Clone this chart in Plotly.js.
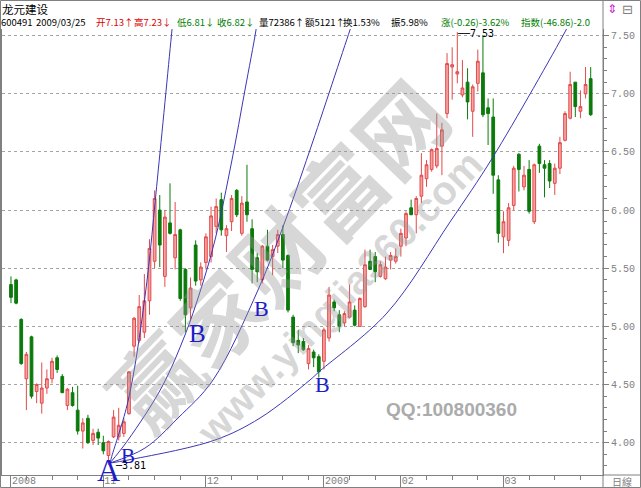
<!DOCTYPE html>
<html>
<head>
<meta charset="utf-8">
<script src="https://cdn.plot.ly/plotly-3.0.1.min.js"></script>
<style>html,body{margin:0;padding:0;background:#fff;}#chart{width:641px;height:488px;}</style>
</head>
<body>
<div id="chart"></div>
<script>
// ---- data (trading-day index 0 = first October 2008 session) ----
const monthIdx = [0, 18, 38, 61, 76, 96];
const monthLabels = ['2008', '11', '12', '2009', '02', '03'];
const weekIdx = [3, 8, 13, 23, 28, 33, 43, 48, 53, 58, 66, 71, 81, 86, 91, 101, 106, 111];
const priceTicks = [4.0, 4.5, 5.0, 5.5, 6.0, 6.5, 7.0, 7.5];

const openP = [5.36,5.40,5.06,4.55,4.91,4.44,4.34,4.47,4.55,4.73,
4.57,4.32,4.43,4.28,4.10,4.21,4.02,4.09,4.00,3.89,
4.05,4.05,4.08,4.25,4.83,4.88,4.95,5.22,5.56,6.00,
5.43,5.89,5.59,5.83,5.49,5.16,5.70,5.40,5.55,5.60,
5.86,6.09,5.78,5.90,6.17,5.80,6.07,5.84,5.59,5.40,
5.69,5.60,5.69,5.79,5.61,5.08,4.88,4.87,4.68,4.78,
4.74,4.70,4.90,5.21,5.10,5.03,5.08,5.14,5.00,5.17,
5.56,5.60,5.43,5.41,5.57,5.56,5.69,5.76,6.02,5.96,
6.12,6.27,6.35,6.38,6.55,6.83,7.23,7.17,6.99,7.10,
6.85,7.09,7.18,6.88,6.80,6.26,5.77,5.74,6.04,6.48,
6.20,6.35,5.90,6.55,6.39,6.40,6.23,6.36,6.60,6.79,
7.10,6.85,7.00,7.13];
const highP = [5.43,5.41,5.07,4.78,4.92,4.51,4.69,4.63,4.73,4.75,
4.59,4.47,4.48,4.49,4.21,4.24,4.12,4.12,4.06,4.02,
4.28,4.30,4.21,4.61,5.08,5.27,5.45,5.75,6.17,6.13,
6.00,6.23,6.07,5.84,5.50,5.42,5.74,5.55,5.80,6.03,
6.10,6.15,5.87,6.13,6.18,6.12,6.39,5.92,5.63,5.70,
5.83,5.70,5.83,5.87,5.62,5.10,4.97,4.90,4.84,4.80,
4.76,4.99,5.34,5.23,5.14,5.13,5.36,5.18,5.25,5.66,
5.66,5.64,5.56,5.60,5.64,5.67,5.84,5.99,6.09,6.12,
6.49,6.43,6.53,6.83,6.75,7.35,7.40,7.53,7.29,7.22,
7.08,7.38,7.50,6.96,6.96,6.30,5.99,6.06,6.38,6.49,
6.38,6.43,6.40,6.57,6.43,6.43,6.40,6.63,6.85,7.19,
7.10,7.03,7.23,7.23];
const lowP = [5.20,5.19,4.67,4.28,4.38,4.34,4.25,4.42,4.51,4.60,
4.43,4.28,4.31,4.07,3.95,3.99,3.98,3.98,3.90,3.81,
4.04,4.02,4.05,4.24,4.74,4.86,4.90,5.10,5.50,5.51,
5.34,5.79,5.49,5.22,4.95,5.05,5.35,5.35,5.49,5.55,
5.80,5.78,5.64,5.82,5.94,5.78,5.90,5.37,5.38,5.37,
5.56,5.44,5.63,5.50,5.12,4.83,4.77,4.79,4.63,4.65,
4.56,4.63,4.87,5.13,4.95,5.00,5.07,5.00,5.00,5.16,
5.49,5.38,5.42,5.40,5.49,5.54,5.60,5.69,5.96,5.80,
6.06,6.20,6.33,6.36,6.30,6.79,6.95,7.09,6.97,6.78,
6.63,7.02,6.80,6.56,6.14,5.72,5.63,5.69,6.00,6.16,
6.17,5.97,5.88,6.32,6.11,6.19,6.13,6.31,6.59,6.78,
6.80,6.79,6.96,6.81];
const closeP = [5.25,5.20,4.68,4.76,4.40,4.50,4.47,4.55,4.70,4.63,
4.43,4.46,4.32,4.10,4.17,4.00,4.08,4.04,3.93,4.01,
4.22,4.15,4.18,4.61,5.07,5.17,5.22,5.67,6.10,5.70,
5.94,5.80,5.79,5.24,5.10,5.33,5.39,5.51,5.77,5.95,
6.03,5.83,5.84,6.10,5.96,6.06,5.96,5.49,5.47,5.69,
5.57,5.66,5.79,5.57,5.14,4.86,4.84,4.80,4.81,4.73,
4.61,4.97,5.27,5.16,5.00,5.11,5.21,5.01,5.24,5.53,
5.49,5.47,5.53,5.51,5.61,5.60,5.80,5.97,5.96,6.10,
6.30,6.39,6.52,6.53,6.69,7.26,7.25,7.19,7.05,6.93,
7.06,7.28,6.82,6.83,6.30,5.80,5.90,6.02,6.36,6.35,
6.30,5.99,6.39,6.40,6.36,6.25,6.36,6.58,6.83,7.08,
6.89,6.89,7.08,6.82];

// hand-drawn arcs from point A (index / price)
const arc1X = [19.3, 19.63, 22.87, 26.12, 28.71, 31.38, 31.77];
const arc1Y = [3.825, 3.88, 4.367, 5.255, 6.345, 7.549, 7.72];
const arc2X = [19.3, 22.81, 29.42, 33.92, 36.84, 39.77, 43.08, 45.61, 47.76, 48.15];
const arc2Y = [3.825, 4.023, 4.479, 4.926, 5.296, 5.743, 6.431, 7.033, 7.549, 7.678];
const arc3X = [19.3, 26.12, 32.55, 39.38, 48.15, 53.02, 58.28, 66.08, 67.06];
const arc3Y = [3.825, 3.954, 4.212, 4.539, 5.313, 5.855, 6.517, 7.549, 7.678];
const arc4X = [19.3, 22.81, 39.77, 48.54, 58.28, 60.23, 73.29, 85.58, 93.96, 107.99, 108.97];
const arc4Y = [3.825, 3.851, 4.023, 4.212, 4.539, 4.617, 5.115, 5.898, 6.457, 7.532, 7.618];

// point labels
const markText = ['A', 'B', 'B', 'B', 'B'];
const markX = [19.1, 22.8, 36.45, 48.9, 60.8];
const markY = [3.765, 3.885, 4.94, 5.15, 4.50];
const markSize = [32, 21, 25, 22, 22];

// header texts
const stockName = '龙元建设';
const hdrText = ['600491', '2009/03/25', '开7.13↑', '高7.23↓', '低6.81↓', '收6.82↓',
  '量72386↑', '额5121↑', '换1.53%', '振5.98%', '涨(-0.26)-3.62%', '指数(-46.86)-2.0'];
const hdrKind = ['k', 'k', 'r', 'r', 'g', 'g', 'k', 'k', 'k', 'k', 'g', 'g'];
const hdrPx = [2, 37, 97, 135, 178, 218, 260, 306, 344, 392, 442, 522];

const idx = openP.map((_, i) => i);

// ---- geometry helpers (pixel -> paper) ----
const PL = 2, PR = 603, PT = 29, PB = 475;
const px = x => (x - PL) / (PR - PL);
const py = y => (PB - y) / (PB - PT);
const PAD = 3; // annotation inner padding

const colorOf = {k: '#000000', r: '#e00000', g: '#008000'};

const traces = [{
  type: 'candlestick', x: idx, open: openP, high: highP, low: lowP, close: closeP,
  increasing: {line: {color: '#e34a4a', width: 1}, fillcolor: '#f5a3a3'},
  decreasing: {line: {color: '#0b7a0b', width: 1}, fillcolor: '#0b7a0b'},
  whiskerwidth: 0, hoverinfo: 'skip', showlegend: false
}];
const arcs = [[arc1X, arc1Y], [arc2X, arc2Y], [arc3X, arc3Y], [arc4X, arc4Y]];
arcs.forEach(a => traces.push({
  type: 'scatter', mode: 'lines', x: a[0], y: a[1],
  line: {color: '#3a36b8', width: 1, shape: 'spline', smoothing: 1},
  hoverinfo: 'skip', showlegend: false
}));

const ann = [];
const paperText = (x, y, text, font, xa) => ({xref: 'paper', yref: 'paper',
  x: px(xa === 'left' ? x - PAD : x), y: py(y), text: text,
  showarrow: false, xanchor: xa || 'center', yanchor: 'middle', font: font});
// watermark
ann.push(Object.assign(paperText(275, 252, '<b>赢家财富网</b>',
  {family: 'Noto Sans CJK SC', size: 88, color: 'rgba(150,150,150,0.38)'}), {textangle: -46}));
ann.push(Object.assign(paperText(340, 297, '<b>www.yingjia360.com</b>',
  {family: 'Liberation Sans', size: 40, color: 'rgba(150,150,150,0.38)'}), {textangle: -46}));
ann.push(paperText(451, 409, '<b>QQ:100800360</b>', {family: 'Liberation Sans', size: 19, color: '#ababab'}));
// A / B labels
markText.forEach((t, i) => ann.push({x: markX[i], y: markY[i], text: t, showarrow: false,
  xanchor: 'center', yanchor: 'middle',
  font: {family: 'Liberation Serif', size: markSize[i], color: '#1c1cc8'}}));
// price extremes
ann.push({x: 19.8, y: 3.80, text: '─3.81', showarrow: false, xanchor: 'left', yanchor: 'middle',
  font: {family: 'DejaVu Sans Mono', size: 10, color: '#000'}});
ann.push({x: 86.5, y: 7.52, text: '──7.53', showarrow: false, xanchor: 'left', yanchor: 'middle',
  font: {family: 'DejaVu Sans Mono', size: 10, color: '#000'}});
// header
ann.push(paperText(3, 9, stockName, {family: 'Noto Sans CJK SC', size: 11.5, color: '#000'}, 'left'));
hdrText.forEach((t, i) => ann.push(paperText(hdrPx[i], 22.5, t,
  {family: 'Noto Sans CJK SC', size: 9.5, color: colorOf[hdrKind[i]]}, 'left')));
// top-right icons and bottom-right period box
ann.push(paperText(612, 9, '⇕', {family: 'DejaVu Sans', size: 12, color: '#d020d0'}));
ann.push(paperText(627, 9, '⊟', {family: 'DejaVu Sans', size: 13, color: '#808080'}));
ann.push(paperText(622, 481, '日線', {family: 'Noto Sans CJK TC', size: 10, color: '#808080'}));

const shapes = [
  {type: 'rect', xref: 'paper', yref: 'paper', x0: px(0.5), x1: px(640.5), y0: py(487.5), y1: py(0.5),
    line: {color: '#808080', width: 1}},
  {type: 'line', xref: 'paper', yref: 'paper', x0: 1, x1: 1, y0: py(488), y1: py(0), line: {color: '#808080', width: 1}},
  {type: 'line', xref: 'paper', yref: 'paper', x0: 1, x1: px(641), y0: 0, y1: 0, line: {color: '#808080', width: 1}}
];

const layout = {
  width: 641, height: 488,
  margin: {l: PL, r: 641 - PR, t: PT, b: 488 - PB, pad: 0},
  paper_bgcolor: '#ffffff', plot_bgcolor: '#ffffff',
  showlegend: false, boxgap: 0.24, dragmode: false,
  xaxis: {
    type: 'linear', range: [-1.75, 115.4], fixedrange: true,
    rangeslider: {visible: false},
    showgrid: false, zeroline: false, showline: true, linecolor: '#808080', linewidth: 1,
    ticks: 'outside', ticklen: 12, tickcolor: '#808080', tickwidth: 1,
    tickvals: monthIdx, ticktext: monthLabels,
    ticklabelposition: 'outside right', ticklabelstandoff: -4,
    tickfont: {family: 'Liberation Mono', size: 10, color: '#808080'},
    minor: {tickmode: 'array', tickvals: weekIdx, ticks: 'outside', ticklen: 4, tickcolor: '#808080', showgrid: false}
  },
  yaxis: {
    side: 'right', range: [3.7223, 7.5572], fixedrange: true,
    tickvals: priceTicks, ticktext: priceTicks.map(v => v.toFixed(2)),
    showgrid: true, gridcolor: '#a4a4a4', griddash: 'dot', gridwidth: 1,
    zeroline: false, showline: true, mirror: true, linecolor: '#808080', linewidth: 1,
    ticks: 'outside', ticklen: 5, tickcolor: '#808080',
    tickfont: {family: 'Liberation Mono', size: 10, color: '#808080'},
    minor: {dtick: 0.1, ticks: 'outside', ticklen: 3, tickcolor: '#808080', showgrid: false}
  },
  annotations: ann, shapes: shapes
};

Plotly.newPlot('chart', traces, layout, {staticPlot: true, displayModeBar: false});
</script>
</body>
</html>
